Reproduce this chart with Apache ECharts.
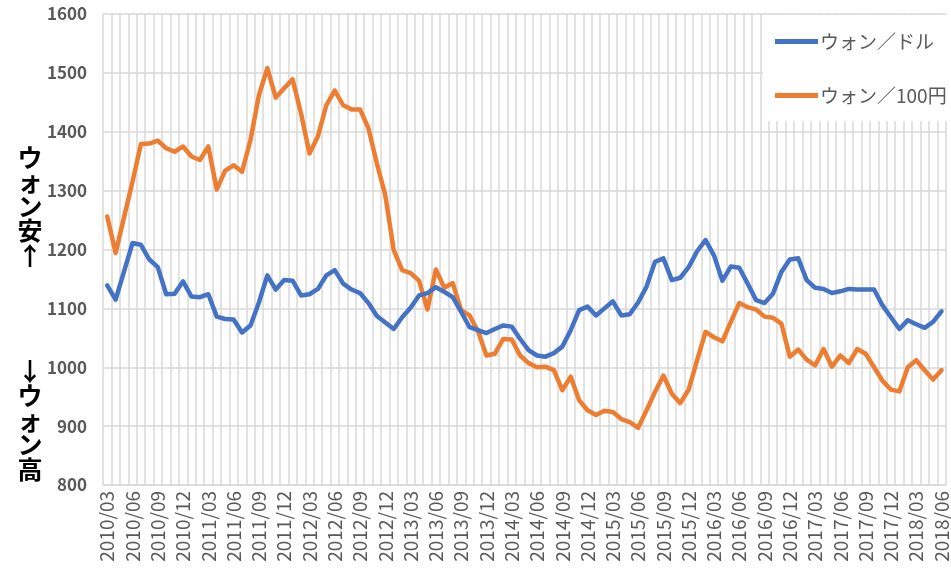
<!DOCTYPE html>
<html>
<head>
<meta charset="utf-8">
<script src="https://cdn.jsdelivr.net/npm/echarts@6/dist/echarts.min.js"></script>
<style>
html,body{margin:0;padding:0;background:#fff;}
#c{width:951px;height:586px;}
</style>
</head>
<body>
<div id="c"></div>
<script>
const categories = [
"2010/03","2010/04","2010/05","2010/06","2010/07","2010/08","2010/09","2010/10","2010/11","2010/12",
"2011/01","2011/02","2011/03","2011/04","2011/05","2011/06","2011/07","2011/08","2011/09","2011/10","2011/11","2011/12",
"2012/01","2012/02","2012/03","2012/04","2012/05","2012/06","2012/07","2012/08","2012/09","2012/10","2012/11","2012/12",
"2013/01","2013/02","2013/03","2013/04","2013/05","2013/06","2013/07","2013/08","2013/09","2013/10","2013/11","2013/12",
"2014/01","2014/02","2014/03","2014/04","2014/05","2014/06","2014/07","2014/08","2014/09","2014/10","2014/11","2014/12",
"2015/01","2015/02","2015/03","2015/04","2015/05","2015/06","2015/07","2015/08","2015/09","2015/10","2015/11","2015/12",
"2016/01","2016/02","2016/03","2016/04","2016/05","2016/06","2016/07","2016/08","2016/09","2016/10","2016/11","2016/12",
"2017/01","2017/02","2017/03","2017/04","2017/05","2017/06","2017/07","2017/08","2017/09","2017/10","2017/11","2017/12",
"2018/01","2018/02","2018/03","2018/04","2018/05","2018/06"
];

const wonPerDollar = [
1139,1115,1163,1211,1208,1183,1170,1124,1125,1146,
1120,1119,1124,1086,1082,1081,1059,1071,1110,1156,1132,1148,
1147,1122,1124,1133,1156,1165,1142,1132,1126,1109,1087,1076,
1065,1085,1101,1122,1126,1136,1128,1119,1094,1068,1063,1058,
1065,1071,1069,1048,1029,1020,1018,1024,1035,1063,1097,1103,
1088,1100,1112,1088,1090,1110,1137,1179,1185,1148,1152,1170,
1197,1216,1190,1147,1171,1169,1142,1114,1109,1125,1162,1183,
1185,1148,1135,1133,1126,1129,1133,1132,1132,1132,1105,1085,
1065,1080,1073,1067,1077,1095
];

const wonPer100Yen = [
1256,1194,1255,1315,1379,1380,1385,1372,1366,1375,
1358,1352,1375,1302,1334,1343,1332,1386,1462,1508,1458,1474,
1489,1431,1363,1392,1445,1470,1445,1438,1438,1406,1346,1292,
1199,1165,1160,1147,1098,1166,1135,1143,1097,1088,1061,1020,
1023,1048,1047,1020,1007,1000,1001,995,961,984,944,927,
919,926,924,912,907,897,927,958,986,955,939,962,
1012,1060,1051,1044,1077,1109,1102,1098,1086,1084,1074,1018,
1030,1013,1003,1031,1001,1020,1007,1031,1023,1000,977,962,
959,1000,1012,995,979,995
];

const seriesNames = ["ウォン／ドル","ウォン／100円"];
const yTitleTop = "ウ\nォ\nン\n安\n↑";
const yTitleBottom = "↓\nウ\nォ\nン\n高";

const FONT = '"Noto Sans CJK JP","Noto Sans",sans-serif';
const chart = echarts.init(document.getElementById('c'), null, {renderer:'canvas'});
chart.setOption({
  animation:false,
  backgroundColor:'#fff',
  grid:{left:103, right:4, top:14, bottom:101, containLabel:false},
  legend:{
    orient:'vertical',
    left:763, top:15,
    width:182,
    backgroundColor:'#fff',
    padding:[17,4,16,12],
    itemGap:35,
    icon:'rect',
    itemWidth:43,
    itemHeight:5,
    textStyle:{fontFamily:FONT, fontSize:19, color:'#595959', padding:[0,0,0,-3]},
    data:seriesNames
  },
  xAxis:{
    type:'category',
    data:categories,
    boundaryGap:true,
    axisLine:{show:true, lineStyle:{color:'#d9d9d9', width:1.5}},
    axisTick:{show:false},
    splitLine:{show:true, interval:0, lineStyle:{color:'#d9d9d9', width:1.5}},
    axisLabel:{interval:2, rotate:90, margin:6, fontFamily:FONT, fontSize:19, color:'#595959'}
  },
  yAxis:{
    type:'value',
    min:800, max:1600, interval:100,
    axisLine:{show:false},
    axisTick:{show:false},
    splitLine:{show:true, lineStyle:{color:'#d9d9d9', width:1.5}},
    axisLabel:{margin:16, fontFamily:FONT, fontSize:17, fontWeight:'bold', color:'#595959',
      formatter:function(v){return String(v);}}
  },
  graphic:[
    {type:'text', x:30, y:145, style:{text:yTitleTop, fill:'#000', font:'bold 25px ' + FONT, align:'center', verticalAlign:'top', lineHeight:24.5}},
    {type:'text', x:30, y:359, style:{text:yTitleBottom, fill:'#000', font:'bold 25px ' + FONT, align:'center', verticalAlign:'top', lineHeight:24.5}}
  ],
  series:[
    {name:seriesNames[0], type:'line', data:wonPerDollar, showSymbol:false, symbol:'none',
     lineStyle:{color:'#4472C4', width:4.5, cap:'round', join:'round'}, itemStyle:{color:'#4472C4'}, z:3},
    {name:seriesNames[1], type:'line', data:wonPer100Yen, showSymbol:false, symbol:'none',
     lineStyle:{color:'#ED7D31', width:4.5, cap:'round', join:'round'}, itemStyle:{color:'#ED7D31'}, z:2}
  ]
});
</script>
</body>
</html>
